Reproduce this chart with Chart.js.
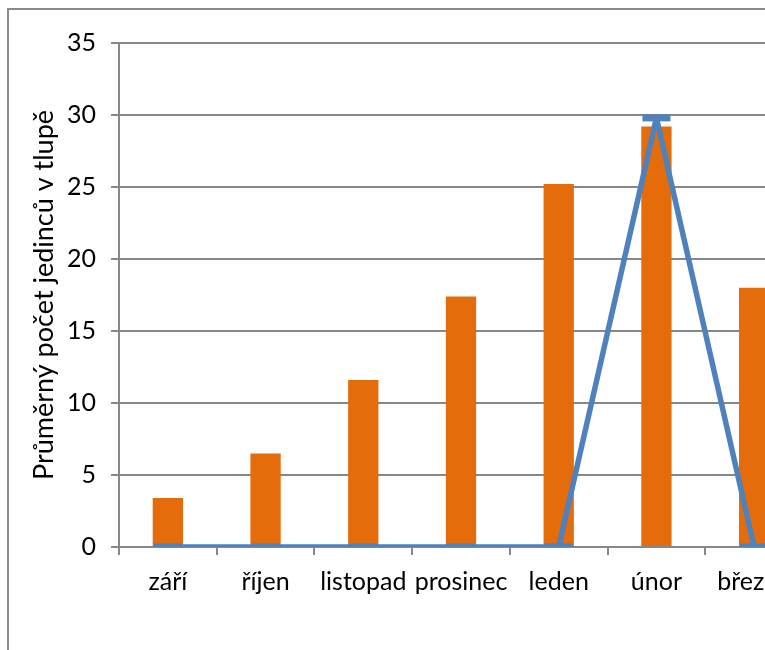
<!DOCTYPE html>
<html lang="cs">
<head>
  <meta charset="UTF-8">
  <title>Průměrný počet jedinců v tlupě</title>
  <script src="https://cdn.jsdelivr.net/npm/chart.js"></script>
  <style>
    html, body {
      margin: 0;
      padding: 0;
      width: 765px;
      height: 650px;
      overflow: hidden;
      background: #fff;
      font-family: Lato, sans-serif;
    }
    #frame {
      position: absolute;
      left: 7px;
      top: 8px;
      width: 900px;
      height: 800px;
      border: 2px solid #8a8a8a;
    }
    #wrap {
      position: absolute;
      left: 0;
      top: 0;
      width: 830px;
      height: 650px;
    }
  </style>
</head>
<body>
  <div id="frame"></div>
  <div id="wrap"><canvas id="chart" width="830" height="650"></canvas></div>

  <script>
    // data
    const months = ['září', 'říjen', 'listopad', 'prosinec', 'leden', 'únor', 'březen'];
    const avgGroup = [3.4, 6.5, 11.6, 17.4, 25.2, 29.2, 18.0];
    const lineSeries = [0, 0, 0, 0, 0, 29.8, 0];
    const yTicks = [0, 5, 10, 15, 20, 25, 30, 35];
    const yTitle = 'Průměrný počet jedinců v tlupě';

    const gridGray = '#878787';
    const fontFamily = 'Lato, sans-serif';

    const ctx = document.getElementById('chart').getContext('2d');
    new Chart(ctx, {
      type: 'bar',
      data: {
        labels: months,
        datasets: [
          {
            type: 'line',
            label: 'řada 2',
            data: lineSeries,
            borderColor: '#4F81BD',
            backgroundColor: '#4F81BD',
            borderWidth: 5.5,
            borderJoinStyle: 'round',
            tension: 0,
            pointStyle: 'line',
            pointRadius: 14,
            pointBorderWidth: 7,
            pointBorderColor: '#4F81BD',
            order: 0
          },
          {
            label: 'řada 1',
            data: avgGroup,
            backgroundColor: '#E46C0A',
            categoryPercentage: 1,
            barPercentage: 0.31,
            order: 1
          }
        ]
      },
      options: {
        responsive: false,
        animation: false,
        layout: { padding: { top: 43, right: 27, bottom: 0, left: 0 } },
        plugins: {
          legend: { display: false },
          tooltip: { enabled: false }
        },
        scales: {
          x: {
            grid: {
              drawOnChartArea: false,
              drawTicks: true,
              tickLength: 8,
              color: gridGray,
              lineWidth: 2
            },
            border: { color: gridGray, width: 2 },
            ticks: {
              color: '#000',
              padding: 12,
              maxRotation: 0,
              autoSkip: false,
              font: { family: fontFamily, size: 25 }
            },
            afterFit: (scale) => { scale.height = 103; }
          },
          y: {
            min: 0,
            max: 35,
            afterBuildTicks: (scale) => { scale.ticks = yTicks.map(v => ({ value: v })); },
            grid: {
              color: gridGray,
              lineWidth: 2,
              tickLength: 8
            },
            border: { color: gridGray, width: 2 },
            ticks: {
              color: '#000',
              padding: 15,
              font: { family: fontFamily, size: 25 }
            },
            title: {
              display: true,
              text: yTitle,
              color: '#000',
              padding: { top: 28, bottom: 4 },
              font: { family: fontFamily, size: 27 }
            },
            afterFit: (scale) => { scale.width = 119; }
          }
        }
      }
    });
  </script>
</body>
</html>
